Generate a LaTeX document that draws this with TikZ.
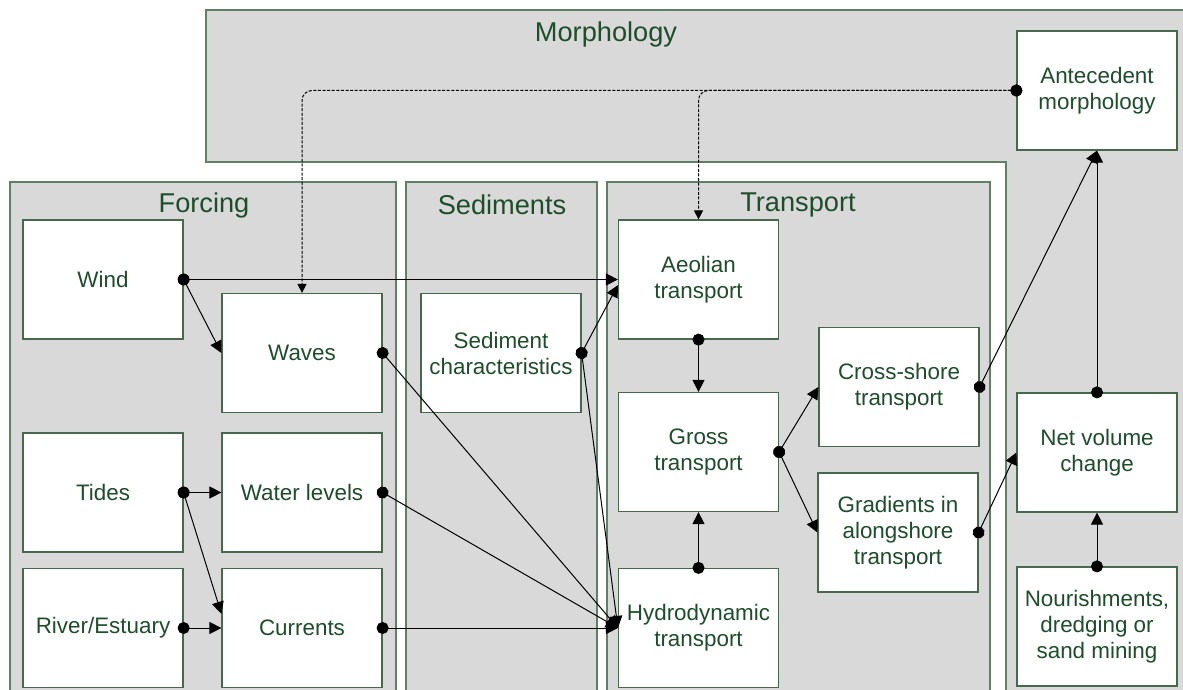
\documentclass[tikz,border=0pt]{standalone}
\usepackage{fontspec}
\setmainfont{Liberation Sans}
\usepackage{tikz}
\usetikzlibrary{arrows.meta}
\usepackage{xcolor}

\definecolor{panelgray}{HTML}{D9D9D9}
\definecolor{panelline}{HTML}{5F7F66}
\definecolor{boxline}{HTML}{48684E}
\definecolor{textgreen}{HTML}{1E4D2B}

\tikzset{
  panel/.style={fill=panelgray, draw=panelline, line width=0.9pt},
  title/.style={text=textgreen, font=\fontsize{13.6}{16}\selectfont},
  item/.style={draw=boxline, fill=white, line width=0.6pt, minimum width=80pt,
    minimum height=59.5pt, align=center, text=textgreen,
    font=\fontsize{11.2}{13}\selectfont, inner sep=1pt},
  link/.style={{Circle[length=6pt]}-{Triangle[length=6pt,width=6pt]},
    shorten <=-3pt, line width=0.5pt},
  feedback/.style={link, dash pattern=on 1.5pt off 0.8pt, rounded corners=5pt,
    {Circle[length=6pt]}-{Triangle[length=4.5pt,width=4.5pt]}}
}

\begin{document}
\begin{tikzpicture}[x=0.5pt,y=-0.5pt]
    \useasboundingbox (0,0) rectangle (1183,690);
    \clip (0,0) rectangle (1183,690);

    \draw[panel] (206,10) -- (1200,10) -- (1200,700) -- (1006,700)
      -- (1006,162) -- (206,162) -- cycle;
    \draw[panel] (10,182) rectangle (396,700);
    \draw[panel] (406,182) rectangle (597,700);
    \draw[panel] (607,182) rectangle (990,700);

    \node[title] (morph) at (606,34) {Morphology};
    \node[title] (forc) at (204,205) {Forcing};
    \node[title] (sedi) at (502,205) {Sediments};
    \node[title] (trans) at (798,205) {Transport};

    \node[item] (wind) at (103,279.5) {Wind};
    \node[item] (waves) at (302,353) {Waves};
    \node[item] (sed) at (501,353) {Sediment\\characteristics};
    \node[item] (tides) at (103,492.5) {Tides};
    \node[item] (wl) at (302,492.5) {Water levels};
    \node[item] (river) at (103,628) {River/Estuary};
    \node[item] (cur) at (302,628) {Currents};

    \node[item] (aeo) at (698.5,279.5) {Aeolian\\transport};
    \node[item] (gross) at (698.5,452) {Gross\\transport};
    \node[item] (hyd) at (698.5,628) {Hydrodynamic\\transport};
    \node[item] (cross) at (899,387) {Cross-shore\\transport};
    \node[item] (grad) at (898,532.5) {Gradients in\\alongshore\\transport};

    \node[item] (ante) at (1097,90.5) {Antecedent\\morphology};
    \node[item] (net) at (1097,452.5) {Net volume\\change};
    \node[item] (nour) at (1097,626.5) {Nourishments,\\dredging or\\sand mining};

    \draw[feedback] (ante.west) -| (waves.north);
    \draw[feedback] (ante.west) -| (aeo.north);

    \draw[link] (wind.east) -- (aeo.west);
    \draw[link] (wind.east) -- (waves.west);
    \draw[link] (tides.east) -- (wl.west);
    \draw[link] (tides.east) -- (cur.170);
    \draw[link] (river.east) -- (cur.west);

    \draw[link] (sed.east) -- (aeo.184);
    \draw[link] (waves.east) -- (hyd.west);
    \draw[link] (wl.east) -- (hyd.west);
    \draw[link] (sed.east) -- (hyd.west);
    \draw[link] (cur.east) -- (hyd.west);

    \draw[link] (aeo.south) -- (gross.north);
    \draw[link] (hyd.north) -- (gross.south);
    \draw[link] (gross.east) -- (cross.west);
    \draw[link] (gross.east) -- (grad.west);

    \draw[link] (cross.east) -- (ante.south);
    \draw[link] (grad.east) -- (net.west);
    \draw[link] (net.north) -- (ante.south);
    \draw[link] (nour.north) -- (net.south);
\end{tikzpicture}
\end{document}
